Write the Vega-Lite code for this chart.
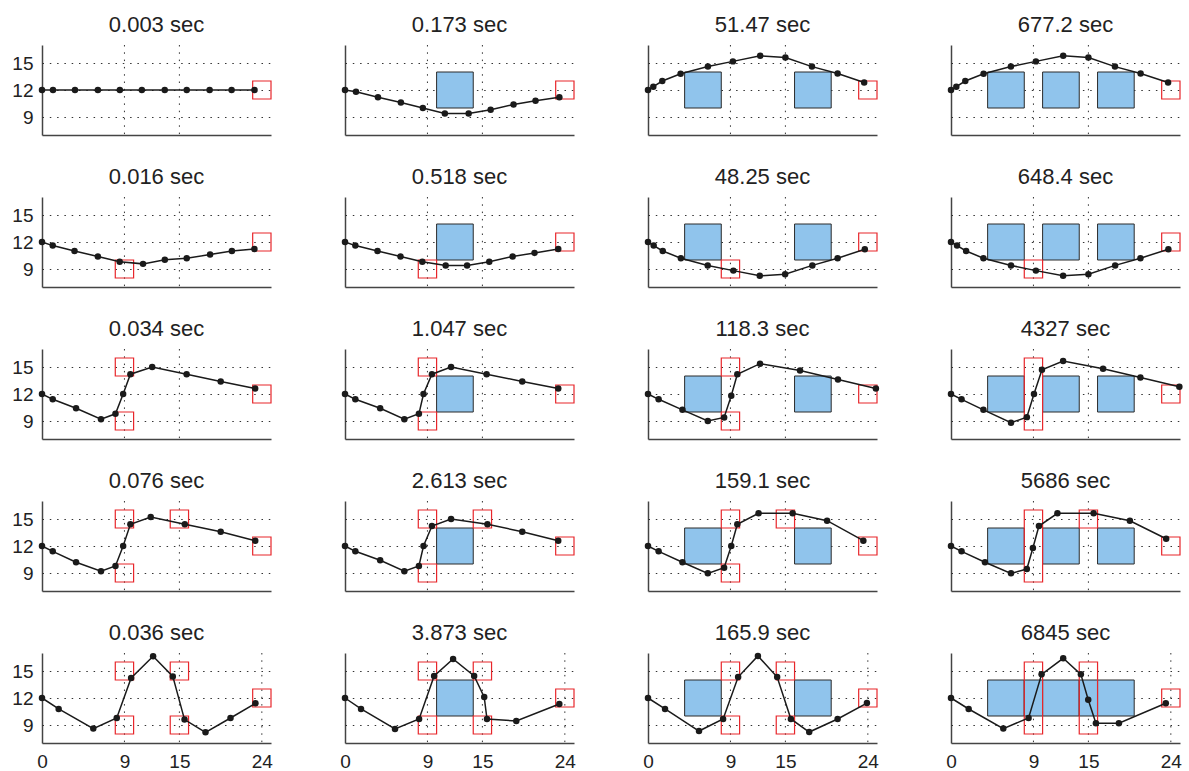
{
  "$schema": "https://vega.github.io/schema/vega-lite/v6.json",
  "padding": {"left": 11, "top": 13, "right": 0, "bottom": 0},
  "background": "white",
  "config": {"font": "Liberation Sans", "view": {"stroke": null}},
  "columns": 4,
  "spacing": {"row": 29, "column": 67},
  "facet": {
    "field": "run",
    "type": "nominal",
    "sort": ["0.003 sec", "0.173 sec", "51.47 sec", "677.2 sec",
             "0.016 sec", "0.518 sec", "48.25 sec", "648.4 sec",
             "0.034 sec", "1.047 sec", "118.3 sec", "4327 sec",
             "0.076 sec", "2.613 sec", "159.1 sec", "5686 sec",
             "0.036 sec", "3.873 sec", "165.9 sec", "6845 sec"],
    "header": {"title": null, "labelFont": "Liberation Sans", "labelFontSize": 22, "labelColor": "#222222", "labelPadding": 8}
  },
  "data": {"values": [
    {"run":"0.003 sec","kind":"pt","x":0,"y":12},{"run":"0.003 sec","kind":"pt","x":1.2,"y":12},{"run":"0.003 sec","kind":"pt","x":3.6,"y":12},{"run":"0.003 sec","kind":"pt","x":6.1,"y":12},{"run":"0.003 sec","kind":"pt","x":8.5,"y":12},{"run":"0.003 sec","kind":"pt","x":10.9,"y":12},{"run":"0.003 sec","kind":"pt","x":13.4,"y":12},{"run":"0.003 sec","kind":"pt","x":15.8,"y":12},{"run":"0.003 sec","kind":"pt","x":18.3,"y":12},{"run":"0.003 sec","kind":"pt","x":20.7,"y":12},{"run":"0.003 sec","kind":"pt","x":23.2,"y":12},
    {"run":"0.173 sec","kind":"pt","x":0,"y":12},{"run":"0.173 sec","kind":"pt","x":1.2,"y":11.8},{"run":"0.173 sec","kind":"pt","x":3.6,"y":11.2},{"run":"0.173 sec","kind":"pt","x":6.1,"y":10.6},{"run":"0.173 sec","kind":"pt","x":8.5,"y":10},{"run":"0.173 sec","kind":"pt","x":10.9,"y":9.4},{"run":"0.173 sec","kind":"pt","x":13.5,"y":9.4},{"run":"0.173 sec","kind":"pt","x":15.9,"y":9.8},{"run":"0.173 sec","kind":"pt","x":18.4,"y":10.4},{"run":"0.173 sec","kind":"pt","x":20.8,"y":10.8},{"run":"0.173 sec","kind":"pt","x":23.4,"y":11.2},
    {"run":"51.47 sec","kind":"pt","x":0,"y":12},{"run":"51.47 sec","kind":"pt","x":0.58,"y":12.37},{"run":"51.47 sec","kind":"pt","x":1.56,"y":13},{"run":"51.47 sec","kind":"pt","x":3.56,"y":13.8},{"run":"51.47 sec","kind":"pt","x":6.54,"y":14.6},{"run":"51.47 sec","kind":"pt","x":9.27,"y":15.18},{"run":"51.47 sec","kind":"pt","x":12.25,"y":15.8},{"run":"51.47 sec","kind":"pt","x":15,"y":15.6},{"run":"51.47 sec","kind":"pt","x":17.9,"y":14.6},{"run":"51.47 sec","kind":"pt","x":20.7,"y":13.83},{"run":"51.47 sec","kind":"pt","x":23.6,"y":12.84},
    {"run":"677.2 sec","kind":"pt","x":0,"y":12},{"run":"677.2 sec","kind":"pt","x":0.58,"y":12.37},{"run":"677.2 sec","kind":"pt","x":1.56,"y":13},{"run":"677.2 sec","kind":"pt","x":3.56,"y":13.8},{"run":"677.2 sec","kind":"pt","x":6.54,"y":14.6},{"run":"677.2 sec","kind":"pt","x":9.27,"y":15.18},{"run":"677.2 sec","kind":"pt","x":12.25,"y":15.8},{"run":"677.2 sec","kind":"pt","x":15,"y":15.6},{"run":"677.2 sec","kind":"pt","x":17.9,"y":14.6},{"run":"677.2 sec","kind":"pt","x":20.7,"y":13.83},{"run":"677.2 sec","kind":"pt","x":23.7,"y":12.84},
    {"run":"0.016 sec","kind":"pt","x":0,"y":12},{"run":"0.016 sec","kind":"pt","x":1.17,"y":11.6},{"run":"0.016 sec","kind":"pt","x":3.55,"y":11},{"run":"0.016 sec","kind":"pt","x":6.1,"y":10.39},{"run":"0.016 sec","kind":"pt","x":8.48,"y":9.8},{"run":"0.016 sec","kind":"pt","x":11.03,"y":9.57},{"run":"0.016 sec","kind":"pt","x":13.41,"y":10.02},{"run":"0.016 sec","kind":"pt","x":15.8,"y":10.2},{"run":"0.016 sec","kind":"pt","x":18.35,"y":10.6},{"run":"0.016 sec","kind":"pt","x":20.73,"y":11},{"run":"0.016 sec","kind":"pt","x":23.19,"y":11.23},
    {"run":"0.518 sec","kind":"pt","x":0,"y":12},{"run":"0.518 sec","kind":"pt","x":1.13,"y":11.6},{"run":"0.518 sec","kind":"pt","x":3.55,"y":11},{"run":"0.518 sec","kind":"pt","x":6.06,"y":10.39},{"run":"0.518 sec","kind":"pt","x":8.44,"y":9.8},{"run":"0.518 sec","kind":"pt","x":10.99,"y":9.39},{"run":"0.518 sec","kind":"pt","x":13.33,"y":9.39},{"run":"0.518 sec","kind":"pt","x":15.75,"y":9.8},{"run":"0.518 sec","kind":"pt","x":18.3,"y":10.39},{"run":"0.518 sec","kind":"pt","x":20.69,"y":10.79},{"run":"0.518 sec","kind":"pt","x":23.28,"y":11.23},
    {"run":"48.25 sec","kind":"pt","x":0,"y":12},{"run":"48.25 sec","kind":"pt","x":0.62,"y":11.6},{"run":"48.25 sec","kind":"pt","x":1.61,"y":11},{"run":"48.25 sec","kind":"pt","x":3.59,"y":10.2},{"run":"48.25 sec","kind":"pt","x":6.52,"y":9.4},{"run":"48.25 sec","kind":"pt","x":9.32,"y":8.82},{"run":"48.25 sec","kind":"pt","x":12.2,"y":8.24},{"run":"48.25 sec","kind":"pt","x":14.97,"y":8.42},{"run":"48.25 sec","kind":"pt","x":17.94,"y":9.4},{"run":"48.25 sec","kind":"pt","x":20.7,"y":10.2},{"run":"48.25 sec","kind":"pt","x":23.67,"y":11.2},
    {"run":"648.4 sec","kind":"pt","x":0,"y":12},{"run":"648.4 sec","kind":"pt","x":0.66,"y":11.6},{"run":"648.4 sec","kind":"pt","x":1.65,"y":11},{"run":"648.4 sec","kind":"pt","x":3.54,"y":10.2},{"run":"648.4 sec","kind":"pt","x":6.55,"y":9.4},{"run":"648.4 sec","kind":"pt","x":9.27,"y":8.82},{"run":"648.4 sec","kind":"pt","x":12.24,"y":8.24},{"run":"648.4 sec","kind":"pt","x":15,"y":8.42},{"run":"648.4 sec","kind":"pt","x":17.92,"y":9.4},{"run":"648.4 sec","kind":"pt","x":20.68,"y":10.2},{"run":"648.4 sec","kind":"pt","x":23.73,"y":11.2},
    {"run":"0.034 sec","kind":"pt","x":0,"y":12},{"run":"0.034 sec","kind":"pt","x":1.17,"y":11.41},{"run":"0.034 sec","kind":"pt","x":3.72,"y":10.42},{"run":"0.034 sec","kind":"pt","x":6.44,"y":9.2},{"run":"0.034 sec","kind":"pt","x":8.02,"y":9.8},{"run":"0.034 sec","kind":"pt","x":8.86,"y":12},{"run":"0.034 sec","kind":"pt","x":9.65,"y":14.2},{"run":"0.034 sec","kind":"pt","x":12.03,"y":15},{"run":"0.034 sec","kind":"pt","x":15.79,"y":14.2},{"run":"0.034 sec","kind":"pt","x":19.51,"y":13.4},{"run":"0.034 sec","kind":"pt","x":23.27,"y":12.6},
    {"run":"1.047 sec","kind":"pt","x":0,"y":12},{"run":"1.047 sec","kind":"pt","x":1.13,"y":11.41},{"run":"1.047 sec","kind":"pt","x":3.84,"y":10.42},{"run":"1.047 sec","kind":"pt","x":6.48,"y":9.2},{"run":"1.047 sec","kind":"pt","x":8.07,"y":9.8},{"run":"1.047 sec","kind":"pt","x":8.57,"y":12},{"run":"1.047 sec","kind":"pt","x":9.49,"y":14.2},{"run":"1.047 sec","kind":"pt","x":11.58,"y":15},{"run":"1.047 sec","kind":"pt","x":15.46,"y":14.2},{"run":"1.047 sec","kind":"pt","x":19.35,"y":13.4},{"run":"1.047 sec","kind":"pt","x":23.28,"y":12.6},
    {"run":"118.3 sec","kind":"pt","x":0,"y":12},{"run":"118.3 sec","kind":"pt","x":1.16,"y":11.41},{"run":"118.3 sec","kind":"pt","x":3.76,"y":10.24},{"run":"118.3 sec","kind":"pt","x":6.53,"y":9},{"run":"118.3 sec","kind":"pt","x":8.31,"y":9.4},{"run":"118.3 sec","kind":"pt","x":9.09,"y":11.8},{"run":"118.3 sec","kind":"pt","x":9.75,"y":14.2},{"run":"118.3 sec","kind":"pt","x":12.23,"y":15.37},{"run":"118.3 sec","kind":"pt","x":16.6,"y":14.6},{"run":"118.3 sec","kind":"pt","x":20.74,"y":13.62},{"run":"118.3 sec","kind":"pt","x":24.88,"y":12.6},
    {"run":"4327 sec","kind":"pt","x":0,"y":12},{"run":"4327 sec","kind":"pt","x":1.15,"y":11.41},{"run":"4327 sec","kind":"pt","x":3.54,"y":10.24},{"run":"4327 sec","kind":"pt","x":6.55,"y":8.8},{"run":"4327 sec","kind":"pt","x":8.28,"y":9.43},{"run":"4327 sec","kind":"pt","x":9.06,"y":12},{"run":"4327 sec","kind":"pt","x":9.93,"y":14.7},{"run":"4327 sec","kind":"pt","x":12.24,"y":15.66},{"run":"4327 sec","kind":"pt","x":16.6,"y":14.8},{"run":"4327 sec","kind":"pt","x":20.68,"y":13.84},{"run":"4327 sec","kind":"pt","x":24.93,"y":12.8},
    {"run":"0.076 sec","kind":"pt","x":0,"y":12},{"run":"0.076 sec","kind":"pt","x":1.17,"y":11.41},{"run":"0.076 sec","kind":"pt","x":3.72,"y":10.19},{"run":"0.076 sec","kind":"pt","x":6.44,"y":9.19},{"run":"0.076 sec","kind":"pt","x":8.02,"y":9.78},{"run":"0.076 sec","kind":"pt","x":8.86,"y":12},{"run":"0.076 sec","kind":"pt","x":9.65,"y":14.41},{"run":"0.076 sec","kind":"pt","x":11.87,"y":15.22},{"run":"0.076 sec","kind":"pt","x":15.59,"y":14.41},{"run":"0.076 sec","kind":"pt","x":19.51,"y":13.59},{"run":"0.076 sec","kind":"pt","x":23.28,"y":12.59},
    {"run":"2.613 sec","kind":"pt","x":0,"y":12},{"run":"2.613 sec","kind":"pt","x":1.13,"y":11.41},{"run":"2.613 sec","kind":"pt","x":3.84,"y":10.41},{"run":"2.613 sec","kind":"pt","x":6.48,"y":9.19},{"run":"2.613 sec","kind":"pt","x":8.07,"y":9.78},{"run":"2.613 sec","kind":"pt","x":8.57,"y":12},{"run":"2.613 sec","kind":"pt","x":9.49,"y":14.22},{"run":"2.613 sec","kind":"pt","x":11.58,"y":15},{"run":"2.613 sec","kind":"pt","x":15.55,"y":14.41},{"run":"2.613 sec","kind":"pt","x":19.35,"y":13.59},{"run":"2.613 sec","kind":"pt","x":23.28,"y":12.59},
    {"run":"159.1 sec","kind":"pt","x":0,"y":12},{"run":"159.1 sec","kind":"pt","x":1.16,"y":11.41},{"run":"159.1 sec","kind":"pt","x":3.76,"y":10.19},{"run":"159.1 sec","kind":"pt","x":6.53,"y":8.96},{"run":"159.1 sec","kind":"pt","x":8.31,"y":9.59},{"run":"159.1 sec","kind":"pt","x":9.09,"y":12},{"run":"159.1 sec","kind":"pt","x":9.75,"y":14.41},{"run":"159.1 sec","kind":"pt","x":12.07,"y":15.63},{"run":"159.1 sec","kind":"pt","x":15.79,"y":15.63},{"run":"159.1 sec","kind":"pt","x":19.55,"y":14.81},{"run":"159.1 sec","kind":"pt","x":23.51,"y":12.59},
    {"run":"5686 sec","kind":"pt","x":0,"y":12},{"run":"5686 sec","kind":"pt","x":1.15,"y":11.41},{"run":"5686 sec","kind":"pt","x":3.71,"y":10.19},{"run":"5686 sec","kind":"pt","x":6.55,"y":8.96},{"run":"5686 sec","kind":"pt","x":8.28,"y":9.44},{"run":"5686 sec","kind":"pt","x":8.94,"y":11.78},{"run":"5686 sec","kind":"pt","x":9.6,"y":14.22},{"run":"5686 sec","kind":"pt","x":11.62,"y":15.63},{"run":"5686 sec","kind":"pt","x":15.57,"y":15.63},{"run":"5686 sec","kind":"pt","x":19.53,"y":14.81},{"run":"5686 sec","kind":"pt","x":23.49,"y":12.81},
    {"run":"0.036 sec","kind":"pt","x":0,"y":12},{"run":"0.036 sec","kind":"pt","x":1.82,"y":10.78},{"run":"0.036 sec","kind":"pt","x":5.6,"y":8.6},{"run":"0.036 sec","kind":"pt","x":8.16,"y":9.78},{"run":"0.036 sec","kind":"pt","x":9.73,"y":14.22},{"run":"0.036 sec","kind":"pt","x":12.13,"y":16.63},{"run":"0.036 sec","kind":"pt","x":14.28,"y":14.4},{"run":"0.036 sec","kind":"pt","x":15.56,"y":9.6},{"run":"0.036 sec","kind":"pt","x":17.85,"y":8.19},{"run":"0.036 sec","kind":"pt","x":20.58,"y":9.78},{"run":"0.036 sec","kind":"pt","x":23.3,"y":11.41},
    {"run":"3.873 sec","kind":"pt","x":0,"y":12},{"run":"3.873 sec","kind":"pt","x":1.75,"y":10.78},{"run":"3.873 sec","kind":"pt","x":5.46,"y":8.56},{"run":"3.873 sec","kind":"pt","x":8.09,"y":9.67},{"run":"3.873 sec","kind":"pt","x":9.73,"y":14.44},{"run":"3.873 sec","kind":"pt","x":11.8,"y":16.33},{"run":"3.873 sec","kind":"pt","x":14.1,"y":14.44},{"run":"3.873 sec","kind":"pt","x":15.2,"y":12.1},{"run":"3.873 sec","kind":"pt","x":15.5,"y":9.67},{"run":"3.873 sec","kind":"pt","x":18.7,"y":9.44},{"run":"3.873 sec","kind":"pt","x":23.4,"y":11.33},
    {"run":"165.9 sec","kind":"pt","x":0,"y":12},{"run":"165.9 sec","kind":"pt","x":1.86,"y":10.78},{"run":"165.9 sec","kind":"pt","x":5.57,"y":8.33},{"run":"165.9 sec","kind":"pt","x":8.2,"y":9.67},{"run":"165.9 sec","kind":"pt","x":9.84,"y":14.33},{"run":"165.9 sec","kind":"pt","x":12,"y":16.67},{"run":"165.9 sec","kind":"pt","x":14.1,"y":14.33},{"run":"165.9 sec","kind":"pt","x":15.6,"y":9.67},{"run":"165.9 sec","kind":"pt","x":17.6,"y":8.22},{"run":"165.9 sec","kind":"pt","x":20.7,"y":9.67},{"run":"165.9 sec","kind":"pt","x":23.9,"y":11.44},
    {"run":"6845 sec","kind":"pt","x":0,"y":12},{"run":"6845 sec","kind":"pt","x":1.93,"y":10.78},{"run":"6845 sec","kind":"pt","x":5.71,"y":8.6},{"run":"6845 sec","kind":"pt","x":8.47,"y":9.78},{"run":"6845 sec","kind":"pt","x":9.89,"y":14.63},{"run":"6845 sec","kind":"pt","x":12.25,"y":16.41},{"run":"6845 sec","kind":"pt","x":14.18,"y":14.63},{"run":"6845 sec","kind":"pt","x":14.98,"y":11.81},{"run":"6845 sec","kind":"pt","x":15.82,"y":9.19},{"run":"6845 sec","kind":"pt","x":18.33,"y":9.19},{"run":"6845 sec","kind":"pt","x":23.45,"y":11.41},

    {"run":"0.173 sec","kind":"blue","x":10,"x2":14,"y":10,"y2":14},
    {"run":"0.518 sec","kind":"blue","x":10,"x2":14,"y":10,"y2":14},
    {"run":"1.047 sec","kind":"blue","x":10,"x2":14,"y":10,"y2":14},
    {"run":"2.613 sec","kind":"blue","x":10,"x2":14,"y":10,"y2":14},
    {"run":"3.873 sec","kind":"blue","x":10,"x2":14,"y":10,"y2":14},
    {"run":"51.47 sec","kind":"blue","x":4,"x2":8,"y":10,"y2":14},{"run":"51.47 sec","kind":"blue","x":16,"x2":20,"y":10,"y2":14},
    {"run":"48.25 sec","kind":"blue","x":4,"x2":8,"y":10,"y2":14},{"run":"48.25 sec","kind":"blue","x":16,"x2":20,"y":10,"y2":14},
    {"run":"118.3 sec","kind":"blue","x":4,"x2":8,"y":10,"y2":14},{"run":"118.3 sec","kind":"blue","x":16,"x2":20,"y":10,"y2":14},
    {"run":"159.1 sec","kind":"blue","x":4,"x2":8,"y":10,"y2":14},{"run":"159.1 sec","kind":"blue","x":16,"x2":20,"y":10,"y2":14},
    {"run":"165.9 sec","kind":"blue","x":4,"x2":8,"y":10,"y2":14},{"run":"165.9 sec","kind":"blue","x":16,"x2":20,"y":10,"y2":14},
    {"run":"677.2 sec","kind":"blue","x":4,"x2":8,"y":10,"y2":14},{"run":"677.2 sec","kind":"blue","x":10,"x2":14,"y":10,"y2":14},{"run":"677.2 sec","kind":"blue","x":16,"x2":20,"y":10,"y2":14},
    {"run":"648.4 sec","kind":"blue","x":4,"x2":8,"y":10,"y2":14},{"run":"648.4 sec","kind":"blue","x":10,"x2":14,"y":10,"y2":14},{"run":"648.4 sec","kind":"blue","x":16,"x2":20,"y":10,"y2":14},
    {"run":"4327 sec","kind":"blue","x":4,"x2":8,"y":10,"y2":14},{"run":"4327 sec","kind":"blue","x":10,"x2":14,"y":10,"y2":14},{"run":"4327 sec","kind":"blue","x":16,"x2":20,"y":10,"y2":14},
    {"run":"5686 sec","kind":"blue","x":4,"x2":8,"y":10,"y2":14},{"run":"5686 sec","kind":"blue","x":10,"x2":14,"y":10,"y2":14},{"run":"5686 sec","kind":"blue","x":16,"x2":20,"y":10,"y2":14},
    {"run":"6845 sec","kind":"blue","x":4,"x2":8,"y":10,"y2":14},{"run":"6845 sec","kind":"blue","x":8,"x2":10,"y":10,"y2":14},{"run":"6845 sec","kind":"blue","x":10,"x2":14,"y":10,"y2":14},{"run":"6845 sec","kind":"blue","x":14,"x2":16,"y":10,"y2":14},{"run":"6845 sec","kind":"blue","x":16,"x2":20,"y":10,"y2":14},

    {"run":"0.003 sec","kind":"red","x":23,"x2":25,"y":11,"y2":13},
    {"run":"0.173 sec","kind":"red","x":23,"x2":25,"y":11,"y2":13},
    {"run":"51.47 sec","kind":"red","x":23,"x2":25,"y":11,"y2":13},
    {"run":"677.2 sec","kind":"red","x":23,"x2":25,"y":11,"y2":13},
    {"run":"0.016 sec","kind":"red","x":8,"x2":10,"y":8,"y2":10},{"run":"0.016 sec","kind":"red","x":23,"x2":25,"y":11,"y2":13},
    {"run":"0.518 sec","kind":"red","x":8,"x2":10,"y":8,"y2":10},{"run":"0.518 sec","kind":"red","x":23,"x2":25,"y":11,"y2":13},
    {"run":"48.25 sec","kind":"red","x":8,"x2":10,"y":8,"y2":10},{"run":"48.25 sec","kind":"red","x":23,"x2":25,"y":11,"y2":13},
    {"run":"648.4 sec","kind":"red","x":8,"x2":10,"y":8,"y2":10},{"run":"648.4 sec","kind":"red","x":23,"x2":25,"y":11,"y2":13},
    {"run":"0.034 sec","kind":"red","x":8,"x2":10,"y":14,"y2":16},{"run":"0.034 sec","kind":"red","x":8,"x2":10,"y":8,"y2":10},{"run":"0.034 sec","kind":"red","x":23,"x2":25,"y":11,"y2":13},
    {"run":"1.047 sec","kind":"red","x":8,"x2":10,"y":14,"y2":16},{"run":"1.047 sec","kind":"red","x":8,"x2":10,"y":8,"y2":10},{"run":"1.047 sec","kind":"red","x":23,"x2":25,"y":11,"y2":13},
    {"run":"118.3 sec","kind":"red","x":8,"x2":10,"y":14,"y2":16},{"run":"118.3 sec","kind":"red","x":8,"x2":10,"y":8,"y2":10},{"run":"118.3 sec","kind":"red","x":23,"x2":25,"y":11,"y2":13},
    {"run":"4327 sec","kind":"red","x":8,"x2":10,"y":8,"y2":16},{"run":"4327 sec","kind":"red","x":23,"x2":25,"y":11,"y2":13},
    {"run":"0.076 sec","kind":"red","x":8,"x2":10,"y":14,"y2":16},{"run":"0.076 sec","kind":"red","x":8,"x2":10,"y":8,"y2":10},{"run":"0.076 sec","kind":"red","x":14,"x2":16,"y":14,"y2":16},{"run":"0.076 sec","kind":"red","x":23,"x2":25,"y":11,"y2":13},
    {"run":"2.613 sec","kind":"red","x":8,"x2":10,"y":14,"y2":16},{"run":"2.613 sec","kind":"red","x":8,"x2":10,"y":8,"y2":10},{"run":"2.613 sec","kind":"red","x":14,"x2":16,"y":14,"y2":16},{"run":"2.613 sec","kind":"red","x":23,"x2":25,"y":11,"y2":13},
    {"run":"159.1 sec","kind":"red","x":8,"x2":10,"y":14,"y2":16},{"run":"159.1 sec","kind":"red","x":8,"x2":10,"y":8,"y2":10},{"run":"159.1 sec","kind":"red","x":14,"x2":16,"y":14,"y2":16},{"run":"159.1 sec","kind":"red","x":23,"x2":25,"y":11,"y2":13},
    {"run":"5686 sec","kind":"red","x":8,"x2":10,"y":8,"y2":16},{"run":"5686 sec","kind":"red","x":14,"x2":16,"y":14,"y2":16},{"run":"5686 sec","kind":"red","x":23,"x2":25,"y":11,"y2":13},
    {"run":"0.036 sec","kind":"red","x":8,"x2":10,"y":14,"y2":16},{"run":"0.036 sec","kind":"red","x":8,"x2":10,"y":8,"y2":10},{"run":"0.036 sec","kind":"red","x":14,"x2":16,"y":14,"y2":16},{"run":"0.036 sec","kind":"red","x":14,"x2":16,"y":8,"y2":10},{"run":"0.036 sec","kind":"red","x":23,"x2":25,"y":11,"y2":13},
    {"run":"3.873 sec","kind":"red","x":8,"x2":10,"y":14,"y2":16},{"run":"3.873 sec","kind":"red","x":8,"x2":10,"y":8,"y2":10},{"run":"3.873 sec","kind":"red","x":14,"x2":16,"y":14,"y2":16},{"run":"3.873 sec","kind":"red","x":14,"x2":16,"y":8,"y2":10},{"run":"3.873 sec","kind":"red","x":23,"x2":25,"y":11,"y2":13},
    {"run":"165.9 sec","kind":"red","x":8,"x2":10,"y":14,"y2":16},{"run":"165.9 sec","kind":"red","x":8,"x2":10,"y":8,"y2":10},{"run":"165.9 sec","kind":"red","x":14,"x2":16,"y":14,"y2":16},{"run":"165.9 sec","kind":"red","x":14,"x2":16,"y":8,"y2":10},{"run":"165.9 sec","kind":"red","x":23,"x2":25,"y":11,"y2":13},
    {"run":"6845 sec","kind":"red","x":8,"x2":10,"y":8,"y2":16},{"run":"6845 sec","kind":"red","x":14,"x2":16,"y":8,"y2":16},{"run":"6845 sec","kind":"red","x":23,"x2":25,"y":11,"y2":13},

    {"run":"0.003 sec","kind":"grid","x":9},{"run":"0.003 sec","kind":"grid","x":15},
    {"run":"0.173 sec","kind":"grid","x":9},{"run":"0.173 sec","kind":"grid","x":15},
    {"run":"51.47 sec","kind":"grid","x":9},{"run":"51.47 sec","kind":"grid","x":15},
    {"run":"677.2 sec","kind":"grid","x":9},{"run":"677.2 sec","kind":"grid","x":15},
    {"run":"0.016 sec","kind":"grid","x":9},{"run":"0.016 sec","kind":"grid","x":15},
    {"run":"0.518 sec","kind":"grid","x":9},{"run":"0.518 sec","kind":"grid","x":15},
    {"run":"48.25 sec","kind":"grid","x":9},{"run":"48.25 sec","kind":"grid","x":15},
    {"run":"648.4 sec","kind":"grid","x":9},{"run":"648.4 sec","kind":"grid","x":15},
    {"run":"0.034 sec","kind":"grid","x":9},{"run":"0.034 sec","kind":"grid","x":15},
    {"run":"1.047 sec","kind":"grid","x":9},{"run":"1.047 sec","kind":"grid","x":15},
    {"run":"118.3 sec","kind":"grid","x":9},{"run":"118.3 sec","kind":"grid","x":15},
    {"run":"4327 sec","kind":"grid","x":9},{"run":"4327 sec","kind":"grid","x":15},
    {"run":"0.076 sec","kind":"grid","x":9},{"run":"0.076 sec","kind":"grid","x":15},
    {"run":"2.613 sec","kind":"grid","x":9},{"run":"2.613 sec","kind":"grid","x":15},
    {"run":"159.1 sec","kind":"grid","x":9},{"run":"159.1 sec","kind":"grid","x":15},
    {"run":"5686 sec","kind":"grid","x":9},{"run":"5686 sec","kind":"grid","x":15},
    {"run":"0.036 sec","kind":"grid","x":9},{"run":"0.036 sec","kind":"grid","x":15},{"run":"0.036 sec","kind":"grid","x":24},
    {"run":"3.873 sec","kind":"grid","x":9},{"run":"3.873 sec","kind":"grid","x":15},{"run":"3.873 sec","kind":"grid","x":24},
    {"run":"165.9 sec","kind":"grid","x":9},{"run":"165.9 sec","kind":"grid","x":15},{"run":"165.9 sec","kind":"grid","x":24},
    {"run":"6845 sec","kind":"grid","x":9},{"run":"6845 sec","kind":"grid","x":15},{"run":"6845 sec","kind":"grid","x":24}
  ]},
  "spec": {
    "width": 229,
    "height": 90,
    "layer": [
      {
        "transform": [{"filter": "datum.kind === 'grid'"}],
        "mark": {"type": "rule", "strokeDash": [1.5, 5.8], "color": "#333333", "strokeWidth": 1},
        "encoding": {
          "x": {"field": "x", "type": "quantitative",
                "scale": {"domain": [0, 25], "nice": false, "zero": false},
                "axis": {"title": null, "values": [0, 9, 15, 24], "domain": false, "ticks": false,
                         "grid": true, "gridColor": "#444444", "gridWidth": 1.5,
                         "gridOpacity": {"condition": {"test": "datum.value === 0", "value": 1}, "value": 0},
                         "labelFont": "Liberation Sans", "labelFontSize": 19, "labelColor": "#222222", "labelPadding": 8, "labelFlush": false}}
        }
      },
      {
        "transform": [{"filter": "datum.kind === 'blue'"}],
        "mark": {"type": "rect", "fill": "#90c4ec", "stroke": "#2a2a2a", "strokeWidth": 1},
        "encoding": {
          "x": {"field": "x", "type": "quantitative",
                "scale": {"domain": [0, 25], "nice": false, "zero": false},
                "axis": {"title": null, "values": [0, 9, 15, 24], "domain": false, "ticks": false,
                         "grid": true, "gridColor": "#444444", "gridWidth": 1.5,
                         "gridOpacity": {"condition": {"test": "datum.value === 0", "value": 1}, "value": 0},
                         "labelFont": "Liberation Sans", "labelFontSize": 19, "labelColor": "#222222", "labelPadding": 8, "labelFlush": false}},
          "x2": {"field": "x2"},
          "y": {"field": "y", "type": "quantitative",
                "scale": {"domain": [7, 17], "nice": false, "zero": false},
                "axis": {"title": null, "values": [7, 9, 12, 15], "domain": false, "ticks": false,
                         "grid": true, "gridOpacity": 1,
                         "gridDash": {"condition": {"test": "datum.value === 7", "value": []}, "value": [1.5, 5.8]},
                         "gridColor": {"condition": {"test": "datum.value === 7", "value": "#444444"}, "value": "#333333"},
                         "gridWidth": {"condition": {"test": "datum.value === 7", "value": 1.5}, "value": 1},
                         "labelExpr": "datum.value === 7 ? '' : datum.label",
                         "labelFont": "Liberation Sans", "labelFontSize": 19, "labelColor": "#222222", "labelPadding": 5}},
          "y2": {"field": "y2"}
        }
      },
      {
        "transform": [{"filter": "datum.kind === 'red'"}],
        "mark": {"type": "rect", "fill": "white", "fillOpacity": 0, "stroke": "#e8262b", "strokeWidth": 1.2},
        "encoding": {
          "x": {"field": "x", "type": "quantitative",
                "scale": {"domain": [0, 25], "nice": false, "zero": false},
                "axis": {"title": null, "values": [0, 9, 15, 24], "domain": false, "ticks": false,
                         "grid": true, "gridColor": "#444444", "gridWidth": 1.5,
                         "gridOpacity": {"condition": {"test": "datum.value === 0", "value": 1}, "value": 0},
                         "labelFont": "Liberation Sans", "labelFontSize": 19, "labelColor": "#222222", "labelPadding": 8, "labelFlush": false}},
          "x2": {"field": "x2"},
          "y": {"field": "y", "type": "quantitative",
                "scale": {"domain": [7, 17], "nice": false, "zero": false},
                "axis": {"title": null, "values": [7, 9, 12, 15], "domain": false, "ticks": false,
                         "grid": true, "gridOpacity": 1,
                         "gridDash": {"condition": {"test": "datum.value === 7", "value": []}, "value": [1.5, 5.8]},
                         "gridColor": {"condition": {"test": "datum.value === 7", "value": "#444444"}, "value": "#333333"},
                         "gridWidth": {"condition": {"test": "datum.value === 7", "value": 1.5}, "value": 1},
                         "labelExpr": "datum.value === 7 ? '' : datum.label",
                         "labelFont": "Liberation Sans", "labelFontSize": 19, "labelColor": "#222222", "labelPadding": 5}},
          "y2": {"field": "y2"}
        }
      },
      {
        "transform": [{"filter": "datum.kind === 'pt'"}],
        "mark": {"type": "line", "color": "#1a1a1a", "strokeWidth": 1.5},
        "encoding": {
          "x": {"field": "x", "type": "quantitative",
                "scale": {"domain": [0, 25], "nice": false, "zero": false},
                "axis": {"title": null, "values": [0, 9, 15, 24], "domain": false, "ticks": false,
                         "grid": true, "gridColor": "#444444", "gridWidth": 1.5,
                         "gridOpacity": {"condition": {"test": "datum.value === 0", "value": 1}, "value": 0},
                         "labelFont": "Liberation Sans", "labelFontSize": 19, "labelColor": "#222222", "labelPadding": 8, "labelFlush": false}},
          "y": {"field": "y", "type": "quantitative",
                "scale": {"domain": [7, 17], "nice": false, "zero": false},
                "axis": {"title": null, "values": [7, 9, 12, 15], "domain": false, "ticks": false,
                         "grid": true, "gridOpacity": 1,
                         "gridDash": {"condition": {"test": "datum.value === 7", "value": []}, "value": [1.5, 5.8]},
                         "gridColor": {"condition": {"test": "datum.value === 7", "value": "#444444"}, "value": "#333333"},
                         "gridWidth": {"condition": {"test": "datum.value === 7", "value": 1.5}, "value": 1},
                         "labelExpr": "datum.value === 7 ? '' : datum.label",
                         "labelFont": "Liberation Sans", "labelFontSize": 19, "labelColor": "#222222", "labelPadding": 5}}
        }
      },
      {
        "transform": [{"filter": "datum.kind === 'pt'"}],
        "mark": {"type": "point", "filled": true, "size": 42, "color": "#1a1a1a", "opacity": 1},
        "encoding": {
          "x": {"field": "x", "type": "quantitative",
                "scale": {"domain": [0, 25], "nice": false, "zero": false},
                "axis": {"title": null, "values": [0, 9, 15, 24], "domain": false, "ticks": false,
                         "grid": true, "gridColor": "#444444", "gridWidth": 1.5,
                         "gridOpacity": {"condition": {"test": "datum.value === 0", "value": 1}, "value": 0},
                         "labelFont": "Liberation Sans", "labelFontSize": 19, "labelColor": "#222222", "labelPadding": 8, "labelFlush": false}},
          "y": {"field": "y", "type": "quantitative",
                "scale": {"domain": [7, 17], "nice": false, "zero": false},
                "axis": {"title": null, "values": [7, 9, 12, 15], "domain": false, "ticks": false,
                         "grid": true, "gridOpacity": 1,
                         "gridDash": {"condition": {"test": "datum.value === 7", "value": []}, "value": [1.5, 5.8]},
                         "gridColor": {"condition": {"test": "datum.value === 7", "value": "#444444"}, "value": "#333333"},
                         "gridWidth": {"condition": {"test": "datum.value === 7", "value": 1.5}, "value": 1},
                         "labelExpr": "datum.value === 7 ? '' : datum.label",
                         "labelFont": "Liberation Sans", "labelFontSize": 19, "labelColor": "#222222", "labelPadding": 5}}
        }
      }
    ]
  }
}
